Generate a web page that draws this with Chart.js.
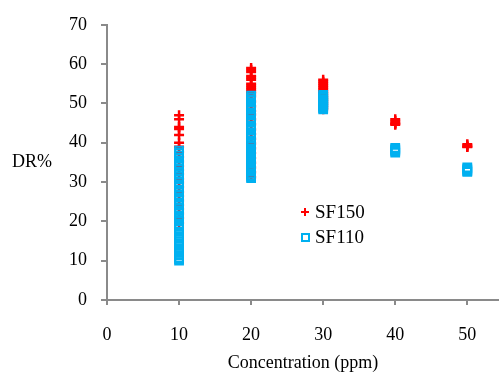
<!DOCTYPE html>
<html>
<head>
<meta charset="utf-8">
<script src="https://cdn.jsdelivr.net/npm/chart.js@4"></script>
<style>
  body { margin: 0; background: #fff; }
  .wrap { position: relative; width: 499px; height: 374px; }
  canvas { display: block; }
  .y-title { position: absolute; left: 12px; top: 151px; font: 18px "Liberation Serif", serif; color: #000; }
  .legend { position: absolute; left: 299px; top: 199px; font: 19px "Liberation Serif", serif; color: #000; }
  .legend .row { display: flex; align-items: center; height: 25px; }
  .legend .mark { position: relative; width: 12px; height: 12px; margin-right: 4px; }
  .plus::before, .plus::after { content: ""; position: absolute; background: #ff0000; }
  .plus::before { left: 5px; top: 2px; width: 2px; height: 8px; }
  .plus::after { left: 2px; top: 5px; width: 8px; height: 2px; }
  .square::before { content: ""; position: absolute; left: 2px; top: 2px; width: 5px; height: 5px; border: 2px solid #00b0f0; }
</style>
</head>
<body>
<div class="wrap">
  <canvas id="myChart" width="499" height="374"></canvas>
  <div class="y-title">DR%</div>
  <div class="legend">
    <div class="row"><span class="mark plus"></span>SF150</div>
    <div class="row"><span class="mark square"></span>SF110</div>
  </div>
</div>
<script>
const concentrations = [10, 20, 30, 40, 50];
const xTicks = [0, 10, 20, 30, 40, 50];

// SF150 readings at each concentration
const sf150At10 = [47, 46, 44, 43.5, 42, 40, 39, 37.6, 36.4, 35.2, 34, 33.1, 32, 30.8, 29.9, 28.7, 27.4, 26.5, 25.3, 24.1, 23.2, 22, 20.8, 19.5];
const sf150At20 = [59, 58.5, 58, 57, 56.5, 56, 55, 54.5, 54, 53.5, 53, 52.5, 51.8, 50.5, 49.3, 48.1, 47.2, 46, 44.7, 43.4, 42.2, 41, 39.8, 38.6, 37.4, 36.1, 34.9, 33.7, 32.5, 31.2];
const sf150At30 = [56, 55.5, 55, 54.5, 54, 53.5, 53, 52.5, 52, 51.5, 51, 50.5, 50, 49.5, 49, 48.5];
const sf150At40 = [46, 45.5, 45, 44.8, 44.6];
const sf150At50 = [39.6, 39.3, 39, 38.9];

// SF110 readings at each concentration
const sf110At10 = [38, 37.4, 36.8, 36.2, 35.2, 34.6, 34, 33.5, 32.6, 32, 31.4, 30.8, 29.9, 29.3, 28.7, 28.1, 27.6, 26.6, 26, 25.4, 24.8, 24.3, 23.3, 22.7, 22.1, 21.5, 20.9, 20.3, 19.2, 18.6, 18, 17.4, 16.8, 16.2, 15.6, 15, 14.4, 13.8, 13.2, 12.6, 12, 11.4, 10.8, 10.4, 10];
const sf110At20 = [52, 51.5, 50.9, 50.3, 49.7, 49.1, 48.6, 47.6, 47, 46.4, 45.8, 45.3, 44.3, 43.7, 43.1, 42.5, 42, 41.4, 40.4, 39.8, 39.2, 38.6, 38, 37.5, 36.9, 36.3, 35.7, 35.1, 34.6, 34, 33.4, 32.8, 32.2, 31.7, 31.3, 31];
const sf110At30 = [52.2, 51.8, 51.5, 51.1, 50.8, 50.5, 50.1, 49.8, 49.5, 49.1, 48.8, 48.5];
const sf110At40 = [38.7, 38.4, 38.1, 37.8, 37.5];
const sf110At50 = [33.7, 33.4, 33.1, 32.8, 32.6];

const sf150Groups = [sf150At10, sf150At20, sf150At30, sf150At40, sf150At50];
const sf110Groups = [sf110At10, sf110At20, sf110At30, sf110At40, sf110At50];

const toPoints = (groups) => {
  const points = [];
  groups.forEach((values, i) => {
    values.forEach((v) => points.push({ x: concentrations[i], y: v }));
  });
  return points;
};

const axisColor = "#8a8a8a";
const tickFont = { family: "Liberation Serif", size: 18 };

const ctx = document.getElementById("myChart").getContext("2d");
const myChart = new Chart(ctx, {
  type: "scatter",
  data: {
    datasets: [
      {
        label: "SF110",
        data: toPoints(sf110Groups),
        pointStyle: "rect",
        pointRadius: 5.5,
        pointBorderWidth: 2,
        borderColor: "#00b0f0",
        backgroundColor: "rgba(0,0,0,0)",
      },
      {
        label: "SF150",
        data: toPoints(sf150Groups),
        pointStyle: "cross",
        pointRadius: 5,
        pointBorderWidth: 2.5,
        borderColor: "#ff0000",
        backgroundColor: "#ff0000",
      },
    ],
  },
  options: {
    responsive: false,
    animation: false,
    layout: { autoPadding: false, padding: { top: 23, right: 0, left: 0, bottom: 0 } },
    plugins: { legend: { display: false }, tooltip: { enabled: false } },
    scales: {
      x: {
        type: "linear",
        min: 0,
        max: 54.4,
        afterBuildTicks: (scale) => {
          scale.ticks = xTicks.map((v) => ({ value: v }));
        },
        afterFit: (scale) => { scale.height = 74; },
        grid: { display: true, drawOnChartArea: false, drawTicks: true, tickLength: 5, color: axisColor, lineWidth: 2 },
        border: { display: true, color: axisColor, width: 2 },
        ticks: { color: "#000", font: tickFont, padding: 19, maxRotation: 0 },
        title: {
          display: true,
          text: "Concentration (ppm)",
          color: "#000",
          font: { family: "Liberation Serif", size: 18 },
          padding: { top: 4, bottom: 0 },
        },
      },
      y: {
        min: 0,
        max: 70,
        ticks: { stepSize: 10, color: "#000", font: tickFont, padding: 14 },
        afterFit: (scale) => { scale.width = 107; },
        grid: { display: true, drawOnChartArea: false, drawTicks: true, tickLength: 6, color: axisColor, lineWidth: 2 },
        border: { display: true, color: axisColor, width: 2 },
      },
    },
  },
});
</script>
</body>
</html>
